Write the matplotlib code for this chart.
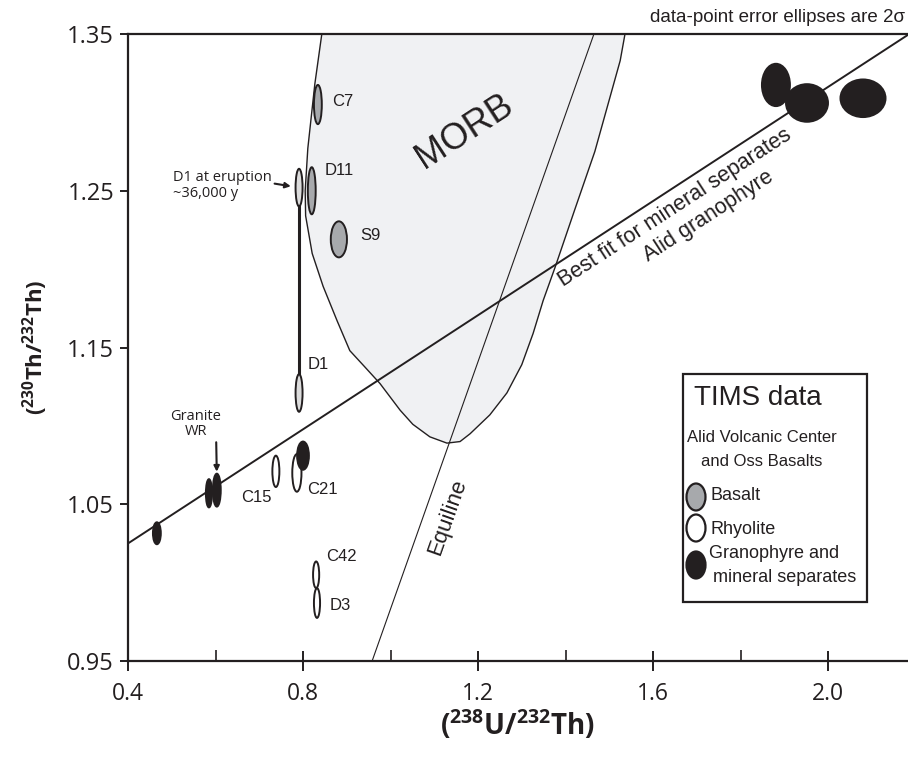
import matplotlib
matplotlib.use("Agg")
import matplotlib.pyplot as plt
from matplotlib.patches import Ellipse, Polygon, Rectangle
import numpy as np

plt.rcParams['font.family'] = ['Liberation Sans', 'DejaVu Sans']
plt.rcParams['mathtext.fontset'] = 'custom'
plt.rcParams['mathtext.rm'] = 'Open Sans'
plt.rcParams['mathtext.bf'] = 'Open Sans:bold'

# ---------------- data ----------------
basalt_names = ['C7', 'D11', 'S9']
basalt_x = [0.834, 0.820, 0.882]
basalt_y = [1.305, 1.250, 1.219]
basalt_ex = [0.018, 0.018, 0.037]
basalt_ey = [0.025, 0.030, 0.023]

rhyo_names = ['C15', 'C21', 'C42', 'D3']
rhyo_x = [0.738, 0.786, 0.830, 0.832]
rhyo_y = [1.071, 1.070, 1.005, 0.987]
rhyo_ex = [0.016, 0.021, 0.014, 0.014]
rhyo_ey = [0.020, 0.024, 0.017, 0.019]

d1_names = ['D1', 'D1 at eruption']
d1_x = [0.791, 0.791]
d1_y = [1.121, 1.252]
d1_ex = [0.016, 0.016]
d1_ey = [0.024, 0.024]

gran_x = [0.466, 0.585, 0.603, 0.800, 1.881, 1.952, 2.080]
gran_y = [1.0315, 1.057, 1.059, 1.081, 1.3175, 1.306, 1.309]
gran_ex = [0.018, 0.014, 0.018, 0.027, 0.064, 0.096, 0.103]
gran_ey = [0.014, 0.018, 0.021, 0.018, 0.027, 0.024, 0.024]

# best-fit isochron (intercept at x=0.4, slope)
fit_x0, fit_y0, fit_slope = 0.4, 1.025, 0.182
# equiline as drawn
equi_x = [0.958, 1.465]
equi_y = [0.95, 1.35]
# MORB field outline
morb_x = [0.843, 0.827, 0.811, 0.805, 0.806, 0.821, 0.846, 0.878, 0.907, 0.940,
          0.976, 1.022, 1.051, 1.090, 1.129, 1.159, 1.182, 1.227, 1.266, 1.300,
          1.326, 1.349, 1.376, 1.420, 1.467, 1.525, 1.536]
morb_y = [1.350, 1.318, 1.277, 1.250, 1.234, 1.210, 1.189, 1.167, 1.148, 1.138,
          1.127, 1.110, 1.101, 1.093, 1.089, 1.090, 1.095, 1.107, 1.121, 1.139,
          1.159, 1.180, 1.201, 1.237, 1.275, 1.333, 1.350]

xticks = [0.4, 0.8, 1.2, 1.6, 2.0]
xminor = [0.6, 1.0, 1.4, 1.8]
yticks = [0.95, 1.05, 1.15, 1.25, 1.35]

BLACK = '#231f20'
GREY = '#a7a9ac'
LIGHT = '#dcdcdc'
MORBC = '#f0f1f3'

fig = plt.figure(figsize=(9.08, 7.61), dpi=100)
ax = fig.add_axes([128/908, 1-661/761, 780/908, 627/761])
ax.set_xlim(0.4, 0.4 + 780/437.5)
ax.set_ylim(0.95, 1.35)

# MORB field
ax.add_patch(Polygon(np.column_stack([morb_x, morb_y]), closed=False,
                     facecolor=MORBC, edgecolor=BLACK, lw=1.0, zorder=1,
                     joinstyle='round'))
# Equiline
ax.plot(equi_x, equi_y, color=BLACK, lw=0.8, zorder=2)
# best fit line
fx = np.array([fit_x0, (1.35 - fit_y0) / fit_slope + fit_x0])
ax.plot(fx, fit_y0 + fit_slope * (fx - fit_x0), color=BLACK, lw=1.4, zorder=2)

# D1 decay line
ax.plot([d1_x[0], d1_x[1]], [d1_y[0], d1_y[1]], color=BLACK, lw=2.2, zorder=3)

def ell(x, y, w, h, fc):
    ax.add_patch(Ellipse((x, y), w, h, facecolor=fc, edgecolor=BLACK,
                         lw=1.4, zorder=4))

for x, y, w, h in zip(basalt_x, basalt_y, basalt_ex, basalt_ey):
    ell(x, y, w, h, GREY)
for x, y, w, h in zip(rhyo_x, rhyo_y, rhyo_ex, rhyo_ey):
    ell(x, y, w, h, 'white')
for x, y, w, h in zip(d1_x, d1_y, d1_ex, d1_ey):
    ell(x, y, w, h, LIGHT)
for x, y, w, h in zip(gran_x, gran_y, gran_ex, gran_ey):
    ell(x, y, w, h, BLACK)

# point labels
lab = dict(fontsize=12, color=BLACK, textcoords='offset pixels', va='center', zorder=6)
ax.annotate('C7', (basalt_x[0], basalt_y[0]), xytext=(14, 3), ha='left', **lab)
ax.annotate('D11', (basalt_x[1], basalt_y[1]), xytext=(13, 20), ha='left', **lab)
ax.annotate('S9', (basalt_x[2], basalt_y[2]), xytext=(21, 4), ha='left', **lab)
ax.annotate('D1', (d1_x[0], d1_y[0]), xytext=(9, 28), ha='left', **lab)
ax.annotate('C15', (rhyo_x[0], rhyo_y[0]), xytext=(-4, -26), ha='right', **lab)
ax.annotate('C21', (rhyo_x[1], rhyo_y[1]), xytext=(10, -17), ha='left', **lab)
ax.annotate('C42', (rhyo_x[2], rhyo_y[2]), xytext=(10, 18), ha='left', **lab)
ax.annotate('D3', (rhyo_x[3], rhyo_y[3]), xytext=(13, -2), ha='left', **lab)

ax.annotate('D1 at eruption\n~36,000 y', xy=(d1_x[1], d1_y[1]), xytext=(-126, 2),
            textcoords='offset pixels', ha='left', va='center', fontsize=10.5,
            family='Open Sans', linespacing=1.1, color=BLACK, zorder=6,
            arrowprops=dict(arrowstyle='-|>', color=BLACK, lw=1.5,
                            shrinkA=0, shrinkB=6, mutation_scale=8,
                            relpos=(0.92, 0.62)))
ax.annotate('Granite\nWR', xy=(gran_x[2], gran_y[2] + 0.01), xytext=(-21, 50),
            textcoords='offset pixels', ha='center', va='center', fontsize=10.5,
            family='Open Sans', linespacing=1.0, color=BLACK, zorder=6,
            arrowprops=dict(arrowstyle='-|>', color=BLACK, lw=1.5,
                            shrinkA=0, shrinkB=2, mutation_scale=8,
                            relpos=(0.9, 0.0)))

# field labels
ax.text(1.170, 1.288, 'MORB', fontsize=26, rotation=33, ha='center', va='center',
        rotation_mode='anchor', color=BLACK, zorder=5)
ax.text(1.131, 1.0417, 'Equiline', fontsize=16, rotation=70.5, ha='center', va='center',
        rotation_mode='anchor', color=BLACK, zorder=5)
ax.text(1.650, 1.239, 'Best fit for mineral separates', fontsize=15.5, rotation=33,
        ha='center', va='center', rotation_mode='anchor', color=BLACK, zorder=5)
ax.text(1.727, 1.234, 'Alid granophyre', fontsize=15.5, rotation=33,
        ha='center', va='center', rotation_mode='anchor', color=BLACK, zorder=5)

fig.text(905/908, 1 - 18/761, 'data-point error ellipses are 2σ', ha='right',
         va='center', fontsize=13.5, color=BLACK)

# legend box
def axf(px, py):
    return ((px - 128) / 780, (661 - py) / 627)

x0, y0 = axf(683, 602)
x1, y1 = axf(867, 374)
ax.add_patch(Rectangle((x0, y0), x1 - x0, y1 - y0, transform=ax.transAxes,
                       facecolor='white', edgecolor=BLACK, lw=1.6, zorder=7))
tx = dict(transform=ax.transAxes, color=BLACK, zorder=8)
ax.text(*axf(758, 398), 'TIMS data', fontsize=20, ha='center', va='center', **tx)
ax.text(*axf(762, 438), 'Alid Volcanic Center', fontsize=12, ha='center', va='center', **tx)
ax.text(*axf(762, 461), 'and Oss Basalts', fontsize=12, ha='center', va='center', **tx)
leg_items = [('Basalt', GREY, 497), ('Rhyolite', 'white', 528), ('', BLACK, 565)]
for name, fc, py in leg_items:
    ex, ey = axf(696, py)
    ax.add_patch(Ellipse((ex, ey), 19/780, 27/627, transform=ax.transAxes,
                         facecolor=fc, edgecolor=BLACK, lw=1.6, zorder=8))
ax.text(*axf(711, 495), 'Basalt', fontsize=13, ha='left', va='center', **tx)
ax.text(*axf(711, 529), 'Rhyolite', fontsize=13, ha='left', va='center', **tx)
ax.text(*axf(709, 553), 'Granophyre and', fontsize=13, ha='left', va='center', **tx)
ax.text(*axf(713, 577), 'mineral separates', fontsize=13, ha='left', va='center', **tx)

# axes styling
ax.spines['right'].set_visible(False)
for s in ['left', 'bottom', 'top']:
    ax.spines[s].set_linewidth(1.6)
    ax.spines[s].set_color(BLACK)
ax.set_xticks(xticks)
ax.set_xticklabels([f'{v:.1f}' for v in xticks])
ax.set_xticks(xminor, minor=True)
ax.set_yticks(yticks)
ax.set_yticklabels([f'{v:.2f}' for v in yticks])
ax.tick_params(axis='x', which='major', direction='inout', length=14, width=1.4,
               pad=8, labelsize=16.5, colors=BLACK)
ax.tick_params(axis='x', which='minor', direction='in', length=8, width=1.2, colors=BLACK)
ax.tick_params(axis='y', which='major', direction='out', length=6, width=1.4,
               pad=4, labelsize=17, colors=BLACK)
for t in ax.get_xticklabels() + ax.get_yticklabels():
    t.set_family(['Open Sans'])

ax.set_xlabel(r'$\mathbf{(^{238}U/^{232}Th)}$', fontsize=20, labelpad=1, color=BLACK)
ax.set_ylabel(r'$\mathbf{(^{230}Th/^{232}Th)}$', fontsize=16, labelpad=12, color=BLACK)

fig.savefig('out.png', dpi=100)
